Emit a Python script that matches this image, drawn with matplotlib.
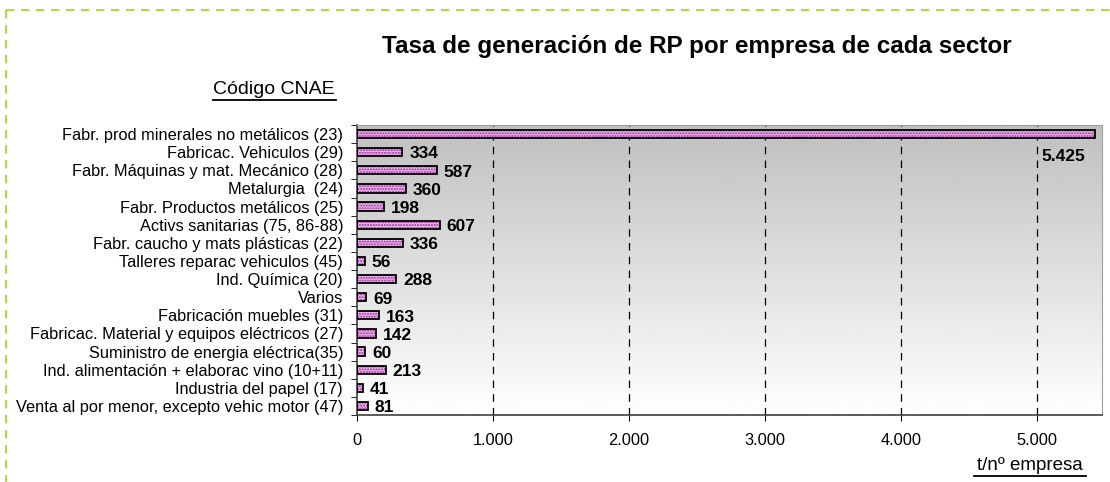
import numpy as np
import matplotlib.pyplot as plt
from matplotlib.lines import Line2D

plt.rcParams['font.family'] = ['Liberation Sans', 'DejaVu Sans']

# sectors (top to bottom) and tonnes per company
sectors = [
    'Fabr. prod minerales no metálicos (23)',
    'Fabricac. Vehiculos (29)',
    'Fabr. Máquinas y mat. Mecánico (28)',
    'Metalurgia  (24)',
    'Fabr. Productos metálicos (25)',
    'Activs sanitarias (75, 86-88)',
    'Fabr. caucho y mats plásticas (22)',
    'Talleres reparac vehiculos (45)',
    'Ind. Química (20)',
    'Varios',
    'Fabricación muebles (31)',
    'Fabricac. Material y equipos eléctricos (27)',
    'Suministro de energia eléctrica(35)',
    'Ind. alimentación + elaborac vino (10+11)',
    'Industria del papel (17)',
    'Venta al por menor, excepto vehic motor (47)',
]
tasa = [5425, 334, 587, 360, 198, 607, 336, 56, 288, 69, 163, 142, 60, 213, 41, 81]
xticks = [0, 1000, 2000, 3000, 4000, 5000]
xtick_labels = ['0', '1.000', '2.000', '3.000', '4.000', '5.000']


def fmt(v):
    return f'{v:,}'.replace(',', '.')


fig = plt.figure(figsize=(11.1, 4.82), dpi=100)
ax = fig.add_axes([357 / 1110, 1 - 415 / 482, 745 / 1110, 290 / 482])

n = len(sectors)
ypos = np.arange(n)
xmax = 5475
ax.set_xlim(0, xmax)
ax.set_ylim(n - 0.5, -0.5)

# gray-to-white gradient background
grad = np.linspace(0.75, 1.0, 256).reshape(-1, 1)
ax.imshow(grad, cmap='gray', vmin=0, vmax=1, aspect='auto',
          extent=[0, xmax, n - 0.5, -0.5], zorder=0)

# vertical dashed gridlines
for xv in xticks[1:]:
    ax.axvline(xv, color='black', lw=0.9, ls=(0, (6, 5)), zorder=1)

# patterned bars: pink fill, magenta dots, black outline
ax.barh(ypos, tasa, height=0.45, color='#eab4ea', hatch='......',
        edgecolor='#9c2c9c', lw=0, zorder=2)
ax.barh(ypos, tasa, height=0.45, fill=False, edgecolor='black', lw=1.3, zorder=3)

for y, v in zip(ypos, tasa):
    if v > 5000:
        ax.text(v - 75, y + 1.25, fmt(v), ha='right', va='center',
                fontsize=12.5, fontweight='bold', zorder=4)
    else:
        ax.text(v + 50, y + 0.1, fmt(v), ha='left', va='center',
                fontsize=12.5, fontweight='bold', zorder=4)

ax.set_yticks(ypos)
ax.set_yticklabels(sectors, fontsize=11.8)
ax.tick_params(axis='y', length=0, pad=10)
ax.set_yticks(np.arange(n + 1) - 0.5, minor=True)
ax.tick_params(axis='y', which='minor', length=4, direction='out')

ax.set_xticks(xticks)
ax.set_xticklabels(xtick_labels, fontsize=11.8)
ax.tick_params(axis='x', length=4, direction='out', pad=9)

for side in ['top', 'right']:
    ax.spines[side].set_color('#a0a0a0')
for side in ['left', 'bottom']:
    ax.spines[side].set_color('#404040')
    ax.spines[side].set_linewidth(1.2)

fig.text(697 / 1110, 1 - 47 / 482, 'Tasa de generación de RP por empresa de cada sector',
         ha='center', va='center', fontsize=17.5, fontweight='bold')

fig.text(274 / 1110, 1 - 90 / 482, 'Código CNAE', ha='center', va='center', fontsize=14)
fig.add_artist(Line2D([213 / 1110, 336 / 1110], [1 - 100 / 482, 1 - 100 / 482], color='black', lw=1.3))

fig.text(1030 / 1110, 1 - 466 / 482, 't/nº empresa', ha='center', va='center', fontsize=13.5)
fig.add_artist(Line2D([974 / 1110, 1086 / 1110], [1 - 476 / 482, 1 - 476 / 482], color='black', lw=1.3))

# dashed green frame (top and left visible)
frame_col = '#a8d020'
fig.add_artist(Line2D([6 / 1110, 1], [1 - 10 / 482, 1 - 10 / 482], color=frame_col, lw=1.2, ls=(0, (5, 4))))
fig.add_artist(Line2D([6 / 1110, 6 / 1110], [1 - 10 / 482, 0], color=frame_col, lw=1.2, ls=(0, (5, 4))))

fig.savefig('out.png', dpi=100)
